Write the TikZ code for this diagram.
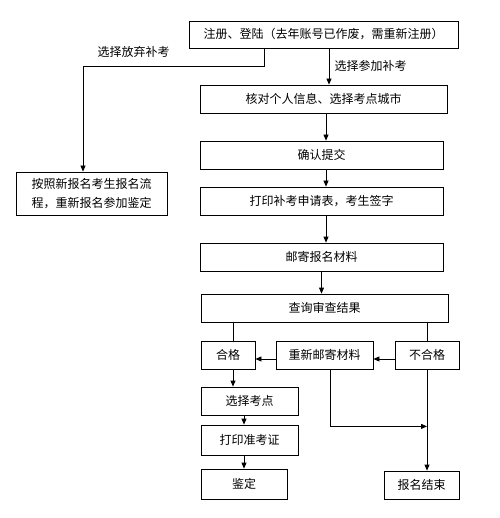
\documentclass[tikz,border=0pt]{standalone}
\usepackage{fontspec}
\setmainfont{Noto Sans CJK SC}
\usetikzlibrary{arrows.meta, positioning, calc}

\begin{document}
\begin{tikzpicture}[x=1pt, y=-1pt, font=\fontsize{12}{19}\selectfont,
    box/.style={draw, line width=0.8pt, minimum height=28pt, inner sep=0pt, align=center},
    arr/.style={-{Triangle[length=6pt, width=5pt]}, line width=0.8pt},
    ln/.style={line width=0.8pt}]
  \useasboundingbox (0,0) rectangle (499,518);
  % main column
  \node[box, minimum width=269pt, minimum height=27pt] (reg) at (323.5,34.5) {注册、登陆（去年账号已作废，需重新注册）};
  \node[box, minimum width=247pt] (check) at (323.5,99) {核对个人信息、选择考点城市};
  \node[box, minimum width=243pt] (confirm) at (321.5,155) {确认提交};
  \node[box, minimum width=243pt] (print) at (321.5,201) {打印补考申请表，考生签字};
  \node[box, minimum width=243pt] (mail) at (321.5,257) {邮寄报名材料};
  \node[box, minimum width=247pt] (query) at (324.5,308) {查询审查结果};
  % left branch
  \node[box, minimum width=151pt, minimum height=43pt] (renew) at (91.5,193.5) {按照新报名考生报名流\\程，重新报名参加鉴定};
  % review results
  \node[box, minimum width=54pt] (pass) at (228,355) {合格};
  \node[box, minimum width=97pt] (remail) at (324.5,355) {重新邮寄材料};
  \node[box, minimum width=64pt] (fail) at (427,355) {不合格};
  \node[box, minimum width=97pt] (site) at (249.5,401) {选择考点};
  \node[box, minimum width=97pt, minimum height=30pt] (ticket) at (249.5,440) {打印准考证};
  \node[box, minimum width=86pt, minimum height=30pt] (appraise) at (244,484) {鉴定};
  \node[box, minimum width=75pt] (finish) at (421.5,485) {报名结束};
  % labels
  \node (giveup) at (133.5,52) {选择放弃补考};
  \node[anchor=west] (join) at (331,66) {选择参加补考};
  % connectors
  \draw[arr] ([xshift=5.5pt]reg.south) -- ([xshift=5.5pt]reg.south |- check.north);
  \draw[arr] ([xshift=-59.5pt]reg.south) -- ++(0,18) -| ([xshift=-8.5pt]renew.north);
  \draw[arr] ([xshift=2.5pt]check.south) -- ([xshift=2.5pt]check.south |- confirm.north);
  \draw[arr] ([xshift=4.5pt]confirm.south) -- ([xshift=4.5pt]confirm.south |- print.north);
  \draw[arr] ([xshift=4.5pt]print.south) -- ([xshift=4.5pt]print.south |- mail.north);
  \draw[arr] (mail.south) -- (mail.south |- query.north);
  \draw[ln] ([xshift=5pt]pass.north |- query.south) -- ([xshift=5pt]pass.north);
  \draw[ln] (fail.north |- query.south) -- (fail.north);
  \draw[arr] ([yshift=-4pt]fail.west) -- ([yshift=-4pt]remail.east);
  \draw[arr] ([yshift=-4pt]remail.west) -- ([yshift=-4pt]pass.east);
  \draw[arr] ([xshift=5pt]pass.south) -- ([xshift=5pt]pass.south |- site.north);
  \draw[arr] ([xshift=-5.5pt]site.south) -- ([xshift=-5.5pt]site.south |- ticket.north);
  \draw[arr] ([xshift=-5.5pt]ticket.south) -- ([xshift=-5.5pt]ticket.south |- appraise.north);
  \draw[arr] ([xshift=5.5pt]remail.south) |- ($(fail.south)+(0,57)$);
  \draw[arr] (fail.south) -- (fail.south |- finish.north);
\end{tikzpicture}
\end{document}
